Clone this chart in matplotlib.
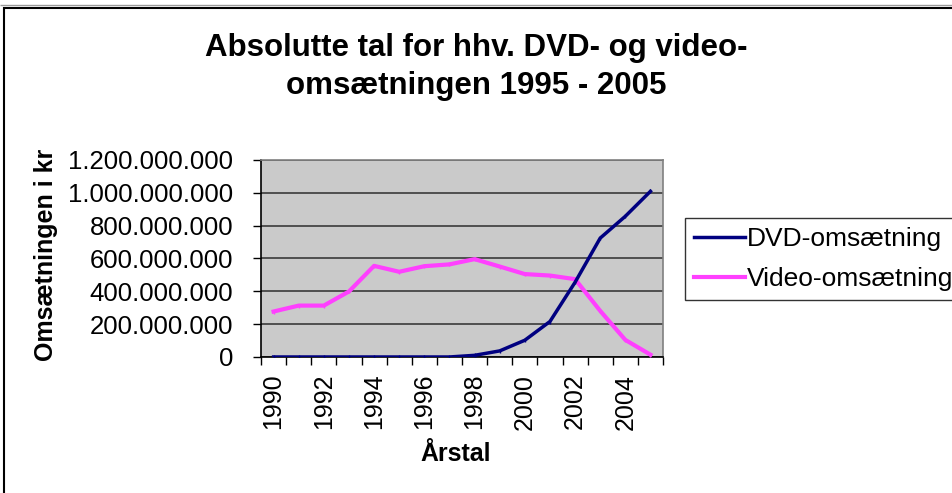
import matplotlib.pyplot as plt
from matplotlib.patches import Rectangle
from matplotlib.ticker import FuncFormatter

# Data
years = list(range(1990, 2006))
dvd = [0, 0, 0, 0, 0, 0, 0, 0, 10e6, 37e6, 102e6, 216e6, 455e6, 724e6, 857e6, 1009e6]
video = [277e6, 313e6, 313e6, 399e6, 555e6, 519e6, 553e6, 564e6, 596e6, 551e6,
         505e6, 496e6, 474e6, 281e6, 104e6, 14e6]
year_labels = [str(y) for y in years[::2]]

plt.rcParams['font.family'] = ['Liberation Sans', 'DejaVu Sans']

fig = plt.figure(figsize=(9.53, 4.93), dpi=100)
ax = fig.add_axes([0.2739, 0.2759, 0.4218, 0.3996])

x = list(range(len(years)))
ax.plot(x, dvd, color='#000080', lw=2.5, marker='|', ms=3, mew=1,
        label='DVD-omsætning', zorder=4)
ax.plot(x, video, color='#FF40FF', lw=3, marker='|', ms=3, mew=1,
        label='Video-omsætning', zorder=3)

ax.set_facecolor('#CACACA')
ax.set_xlim(-0.5, len(years) - 0.5)
ax.set_ylim(0, 1.2e9)
ax.set_yticks([i * 200e6 for i in range(7)])
ax.yaxis.set_major_formatter(FuncFormatter(lambda v, p: f"{int(v):,}".replace(',', '.')))
ax.grid(axis='y', color='#3a3a3a', lw=1.2)
ax.set_axisbelow(True)

# category boundaries get the tick marks, labels sit at category centres
ax.set_xticks([i - 0.5 for i in range(len(years) + 1)])
ax.set_xticklabels([])
ax.set_xticks(x[::2], minor=True)
ax.set_xticklabels(year_labels, minor=True, rotation=90, fontsize=18)
ax.tick_params(axis='x', which='minor', length=0, pad=12)
ax.tick_params(axis='x', which='major', length=6, width=1, direction='out')
ax.tick_params(axis='y', length=6, width=1, direction='out', labelsize=18.5, pad=14)

for s in ['left', 'bottom']:
    ax.spines[s].set_color('black')
    ax.spines[s].set_linewidth(1.2)
for s in ['top', 'right']:
    ax.spines[s].set_color('#808080')
    ax.spines[s].set_linewidth(1.2)

fig.text(0.5, 0.902, 'Absolutte tal for hhv. DVD- og video-', ha='center', va='center',
         fontsize=22.5, fontweight='bold')
fig.text(0.5, 0.826, 'omsætningen 1995 - 2005', ha='center', va='center',
         fontsize=22.5, fontweight='bold')
fig.text(0.048, 0.483, 'Omsætningen i kr', rotation=90, ha='center', va='center',
         fontsize=18, fontweight='bold')
fig.text(0.478, 0.08, 'Årstal', ha='center', va='center', fontsize=18, fontweight='bold')

leg = fig.legend(loc='upper left', bbox_to_anchor=(0.719, 0.558), fontsize=19,
                 frameon=True, fancybox=False, edgecolor='black', handlelength=1.9,
                 handletextpad=0.1, borderpad=0.35, labelspacing=0.6, borderaxespad=0)
leg.get_frame().set_linewidth(1)
for h in leg.legend_handles:
    h.set_marker('')

# outer chart frame
fig.patches.append(Rectangle((4 / 953, -0.1), 1.2, 1 - 8 / 493 + 0.1, transform=fig.transFigure,
                             fill=False, edgecolor='black', lw=1.5))
fig.patches.append(Rectangle((0, 1 - 5 / 493), 1, 0, transform=fig.transFigure,
                             fill=False, edgecolor='#999999', lw=1))

fig.savefig('out.png', dpi=100)
